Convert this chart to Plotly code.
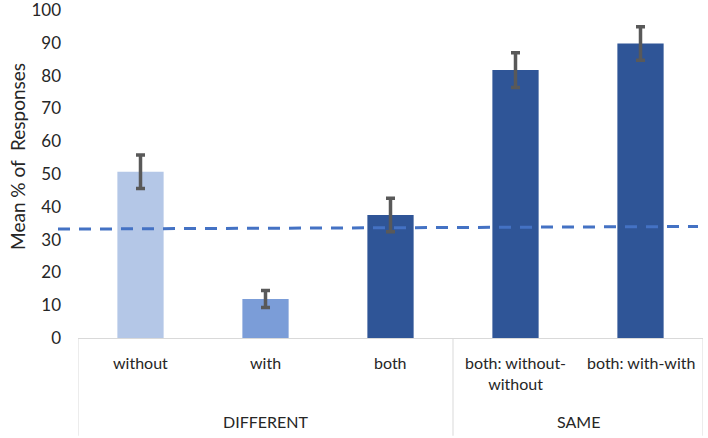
import plotly.graph_objects as go

categories = ["without", "with", "both", "both: without-<br>without", "both: with-with"]
groups = ["DIFFERENT", "SAME"]
group_members = [3, 2]
means = [50.7, 11.9, 37.5, 81.7, 89.8]
errors = [5.1, 2.6, 5.1, 5.3, 5.1]
bar_colors = ["#b4c7e7", "#7b9dd8", "#2f5597", "#2f5597", "#2f5597"]
chance_line = [33.2, 34.0]
y_ticks = list(range(0, 101, 10))
y_title = "Mean % of  Responses"

font_family = "Lato, 'Open Sans', sans-serif"
x_idx = list(range(len(categories)))

fig = go.Figure()
fig.add_trace(go.Bar(
    x=x_idx, y=means, width=0.37,
    marker=dict(color=bar_colors, line=dict(width=0)),
    error_y=dict(type="data", array=errors, visible=True,
                 color="#595959", thickness=3.5, width=4.5),
    showlegend=False,
))

# dashed reference line (extends slightly left of the plot area)
fig.add_shape(type="line", xref="paper", yref="y",
              x0=-0.032, x1=0.992, y0=chance_line[0], y1=chance_line[1],
              line=dict(color="#4472c4", width=3, dash="12px,9px"))

# category tick labels
for i, c in enumerate(categories):
    fig.add_annotation(x=i, xref="x", y=-0.04, yref="paper", text=c,
                       showarrow=False, yanchor="top", xanchor="center",
                       font=dict(family=font_family, size=16, color="#262626"))

# group labels and dividers
start = 0
bounds = [-0.5]
for g, n in zip(groups, group_members):
    center = start + (n - 1) / 2
    fig.add_annotation(x=center, xref="x", y=-0.255, yref="paper", text=g,
                       showarrow=False, yanchor="middle", xanchor="center",
                       font=dict(family=font_family, size=16, color="#262626"))
    start += n
    bounds.append(start - 0.5)
for b in bounds:
    fig.add_shape(type="line", xref="x", yref="paper", x0=b, x1=b, y0=0, y1=-0.298,
                  line=dict(color="#d9d9d9", width=1))

# y-axis title
fig.add_annotation(x=-0.096, xref="paper", y=0.552, yref="paper", text=y_title,
                   textangle=-90, showarrow=False, xanchor="center", yanchor="middle",
                   font=dict(family=font_family, size=19, color="#262626"))

fig.update_layout(
    width=708, height=438,
    margin=dict(l=78, r=5, t=10, b=100),
    paper_bgcolor="white", plot_bgcolor="white",
    font=dict(family=font_family, color="#595959"),
    xaxis=dict(range=[-0.5, 4.5], tickvals=x_idx, showticklabels=False,
               showgrid=False, zeroline=False, showline=True, automargin=False,
               linecolor="#d9d9d9", linewidth=1, ticks=""),
    yaxis=dict(range=[0, 100], tickvals=y_ticks, showgrid=False, zeroline=False,
               showline=False, ticks="", ticklabelstandoff=16, automargin=False,
               ticklabeloverflow="allow",
               tickfont=dict(family=font_family, size=17, color="#262626")),
)

fig.write_html("out.html", config={"displayModeBar": False},
               post_script="document.body.style.margin='0';document.body.style.overflow='hidden';")
